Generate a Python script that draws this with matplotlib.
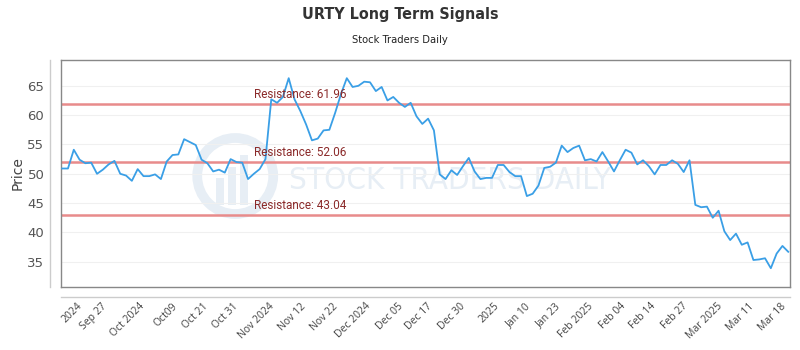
import matplotlib
matplotlib.use("Agg")
import matplotlib.pyplot as plt
from matplotlib.lines import Line2D
from matplotlib.patches import Ellipse, Rectangle
from matplotlib import font_manager

# price series (one value per trading session)
prices = [
    50.9, 50.9, 54.1, 52.4, 51.8, 51.9, 50.0, 50.7, 51.6, 52.2,
    50.0, 49.7, 48.8, 50.8, 49.6, 49.6, 49.9, 49.1, 52.1, 53.2,
    53.3, 55.9, 55.4, 54.9, 52.4, 51.8, 50.4, 50.7, 50.2, 52.5,
    52.0, 51.9, 49.1, 50.0, 50.8, 52.5, 62.7, 62.1, 63.1, 66.3,
    62.7, 60.7, 58.4, 55.7, 56.0, 57.4, 57.5, 60.4, 63.6, 66.3,
    64.8, 65.0, 65.7, 65.6, 64.1, 64.8, 62.5, 63.1, 62.1, 61.4,
    62.1, 59.8, 58.5, 59.4, 57.4, 49.9, 49.1, 50.6, 49.8, 51.3,
    52.7, 50.4, 49.1, 49.3, 49.3, 51.5, 51.5, 50.3, 49.6, 49.6,
    46.2, 46.6, 48.0, 51.0, 51.2, 51.9, 54.8, 53.7, 54.4, 54.8,
    52.3, 52.5, 52.1, 53.7, 52.1, 50.4, 52.3, 54.1, 53.6, 51.6,
    52.3, 51.3, 49.9, 51.5, 51.5, 52.3, 51.7, 50.3, 52.3, 44.7,
    44.3, 44.4, 42.5, 43.7, 40.2, 38.7, 39.8, 37.9, 38.3, 35.3,
    35.4, 35.6, 33.9, 36.4, 37.7, 36.7,
]

resistance_levels = [61.96, 52.06, 43.04]

tick_labels = [
    "2024", "Sep 27", "Oct 2024", "Oct09", "Oct 21", "Oct 31", "Nov 2024",
    "Nov 12", "Nov 22", "Dec 2024", "Dec 05", "Dec 17", "Dec 30", "2025",
    "Jan 10", "Jan 23", "Feb 2025", "Feb 04", "Feb 14", "Feb 27",
    "Mar 2025", "Mar 11", "Mar 18",
]
tick_positions = [
    2.4, 6.7, 13.3, 18.9, 24.1, 29.3, 35.5, 41.0, 46.6, 52.2, 57.7, 62.8,
    68.5, 74.2, 79.7, 84.9, 90.5, 96.0, 101.2, 106.7, 112.7, 118.1, 123.6,
]

y_ticks = [35, 40, 45, 50, 55, 60, 65]

# narrow font for title / watermark if the condensed face is around
condensed = [f.name for f in font_manager.fontManager.ttflist
             if "condensed" in str(f.stretch).lower()]
narrow = ["DejaVu Sans"]
narrow_stretch = "condensed" if any("DejaVu" in n for n in condensed) else "normal"

fig = plt.figure(figsize=(8, 3.5), dpi=100)
ax = fig.add_axes([0.07625, 0.18, 0.91125, 0.6486])

# watermark (axes is ~729 x 227 px)
wm = "#e7eef5"
ax.add_patch(Ellipse((0.239, 0.489), 76 / 729, 76 / 227, transform=ax.transAxes,
                     facecolor="none", edgecolor=wm, lw=7, zorder=0))
for bx, bh in [(0.212, 0.12), (0.229, 0.17), (0.246, 0.22)]:
    ax.add_patch(Rectangle((bx, 0.36), 0.011, bh, transform=ax.transAxes,
                           facecolor=wm, edgecolor="none", zorder=0))
ax.text(0.533, 0.47, "STOCK TRADERS DAILY", transform=ax.transAxes,
        ha="center", va="center", fontsize=22.5, color=wm,
        family=narrow, stretch=narrow_stretch, zorder=0)

x = list(range(len(prices)))
ax.plot(x, prices, color="#3a9fe6", lw=1.3, zorder=3)

for level in resistance_levels:
    ax.axhline(level, color="#e88b8b", lw=1.8, zorder=2)
    ax.text(33.0, level + 0.5, f"Resistance: {level:.2f}", color="#8b2a2a",
            fontsize=8.5, family="Roboto", va="bottom", ha="left", zorder=4)

ax.set_xlim(-0.2, 125.3)
ax.set_ylim(30.7, 69.4)
ax.set_yticks(y_ticks)
ax.set_xticks(tick_positions)
ax.set_xticklabels(tick_labels, rotation=45, ha="right",
                   rotation_mode="anchor", family="Open Sans", fontsize=7.5,
                   color="#444444")
ax.tick_params(axis="x", length=0, pad=10)
ax.tick_params(axis="y", length=0, pad=12, labelsize=9.5, labelcolor="#555555")
ax.grid(axis="y", color="#f0f0f0", lw=0.8)
ax.set_axisbelow(True)
for s in ax.spines.values():
    s.set_color("#888888")
    s.set_linewidth(1.0)
ax.set_ylabel("Price", fontsize=10, color="#444444", labelpad=2)

# offset axis lines outside the frame
fig.add_artist(Line2D([50 / 800, 50 / 800], [1 - 60 / 350, 1 - 287 / 350],
                      color="#cccccc", lw=1.0))
fig.add_artist(Line2D([61 / 800, 790 / 800], [1 - 297 / 350, 1 - 297 / 350],
                      color="#cccccc", lw=1.0))

fig.text(0.5, 1 - 15 / 350, "URTY Long Term Signals", ha="center",
         va="center", fontsize=11.5, fontweight="bold", color="#333333",
         family=narrow, stretch=narrow_stretch)
fig.text(0.5, 1 - 40 / 350, "Stock Traders Daily", ha="center",
         va="center", fontsize=8, color="#222222",
         family=narrow, stretch=narrow_stretch)

fig.savefig("out.png", dpi=100)
